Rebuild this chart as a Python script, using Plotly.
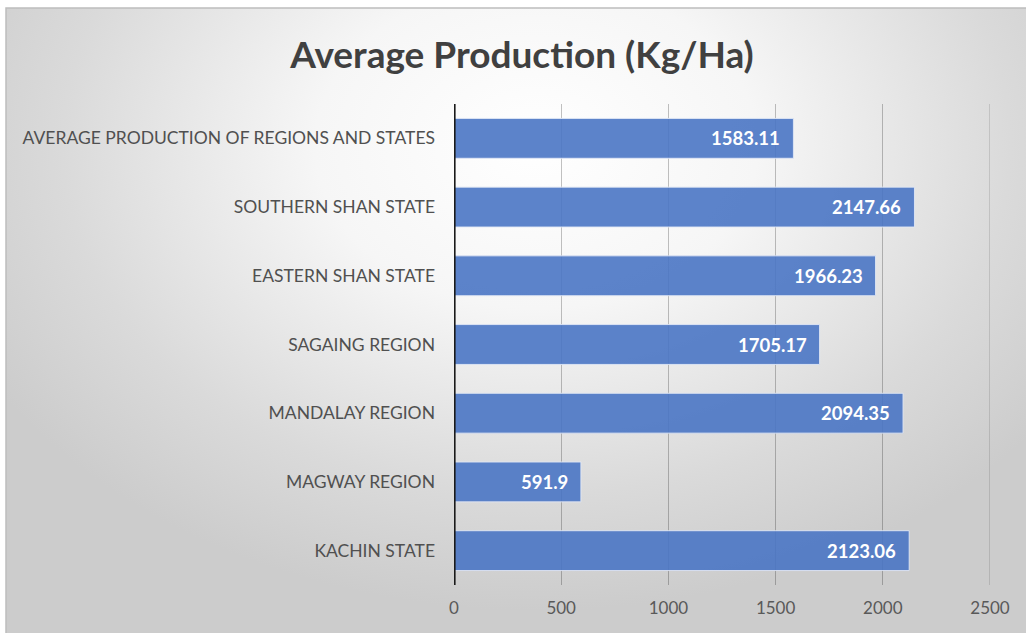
import base64
import plotly.graph_objects as go

# Average production per region / state (kg per hectare), bottom to top
regions = [
    "KACHIN STATE",
    "MAGWAY REGION",
    "MANDALAY REGION",
    "SAGAING REGION",
    "EASTERN SHAN STATE",
    "SOUTHERN SHAN STATE",
    "AVERAGE PRODUCTION OF REGIONS AND STATES",
]
production = [2123.06, 591.9, 2094.35, 1705.17, 1966.23, 2147.66, 1583.11]
x_ticks = [0, 500, 1000, 1500, 2000, 2500]

W, H = 1026, 633
ML, MR, MT, MB = 454, 36, 104, 48
PW, PH = W - ML - MR, H - MT - MB
GRID = "rgba(0,0,0,0.24)"


def px_to_paper(px, py):
    """Convert page pixels to plot-area paper coordinates."""
    return (px - ML) / PW, (H - MB - py) / PH


# Soft radial backdrop (white centre fading to grey edges)
BW, BH = W - 6, H - 8
svg = f"""<svg xmlns='http://www.w3.org/2000/svg' width='{BW}' height='{BH}' viewBox='0 0 {BW} {BH}' preserveAspectRatio='none'>
<defs>
<radialGradient id='g' cx='0.52' cy='0.22' r='0.62' gradientTransform='translate(0.52 0.22) scale(1 1.2) translate(-0.52 -0.22)'>
<stop offset='0' stop-color='#ffffff'/>
<stop offset='0.35' stop-color='#f6f6f6'/>
<stop offset='0.75' stop-color='#dadada'/>
<stop offset='1' stop-color='#cccccc'/>
</radialGradient>
</defs>
<rect x='0' y='0' width='{BW}' height='{BH}' fill='url(#g)'/>
</svg>"""
bg_src = "data:image/svg+xml;base64," + base64.b64encode(svg.encode()).decode()

fig = go.Figure()
fig.add_trace(
    go.Bar(
        x=production,
        y=regions,
        orientation="h",
        marker=dict(color="rgba(74,117,196,0.9)", line=dict(color="rgba(225,232,245,0.9)", width=1)),
        hoverinfo="x+y",
    )
)

# Value labels inside the bar ends
for reg, val in zip(regions, production):
    fig.add_annotation(
        x=val, y=reg, xref="x", yref="y",
        text=f"<b>{val}</b>",
        showarrow=False, xanchor="right", xshift=-11,
        font=dict(family="Lato", size=18.5, color="white"),
    )

bx0, by0 = px_to_paper(6, 8)
bx1, by1 = px_to_paper(W, H)
fig.add_layout_image(
    dict(source=bg_src, xref="paper", yref="paper", x=bx0, y=by0,
         sizex=bx1 - bx0, sizey=by0 - by1, sizing="stretch", layer="below",
         xanchor="left", yanchor="top")
)

fig.add_shape(
    type="rect", xref="paper", yref="paper",
    x0=bx0, x1=bx1 + 0.05, y0=by1 - 0.05, y1=by0,
    line=dict(color="#bdbdbd", width=1.5), fillcolor="rgba(0,0,0,0)", layer="below",
)

# Gridline at the range edge (not drawn by the axis itself)
fig.add_shape(
    type="line", xref="x", yref="paper", x0=x_ticks[-1], x1=x_ticks[-1], y0=0, y1=1,
    line=dict(color=GRID, width=1), layer="below",
)

fig.update_layout(
    width=W, height=H,
    margin=dict(l=ML, r=MR, t=MT, b=MB),
    paper_bgcolor="white",
    plot_bgcolor="rgba(0,0,0,0)",
    bargap=0.42,
    showlegend=False,
    title=dict(
        text="<b>Average Production (Kg/Ha)</b>",
        x=522 / W, xanchor="center", y=1 - 55 / H, yanchor="middle",
        font=dict(family="Lato", size=37, color="#404040"),
    ),
    xaxis=dict(
        range=[0, 2500], tickvals=x_ticks, ticktext=[str(t) for t in x_ticks],
        showgrid=True, gridcolor=GRID, gridwidth=1,
        zeroline=False, showline=False, ticks="",
        tickfont=dict(family="Lato", size=17, color="#595959"),
        ticklabelstandoff=11,
    ),
    yaxis=dict(
        showgrid=False, zeroline=False, ticks="",
        showline=False,
        tickfont=dict(family="Lato", size=17.5, color="#505050"),
        ticklabelstandoff=18,
    ),
)

# Heavy baseline at zero
fig.add_shape(
    type="line", xref="x", yref="paper", x0=0, x1=0, y0=0, y1=1,
    line=dict(color="#1a1a1a", width=3.2),
)

fig.write_html("out.html")
